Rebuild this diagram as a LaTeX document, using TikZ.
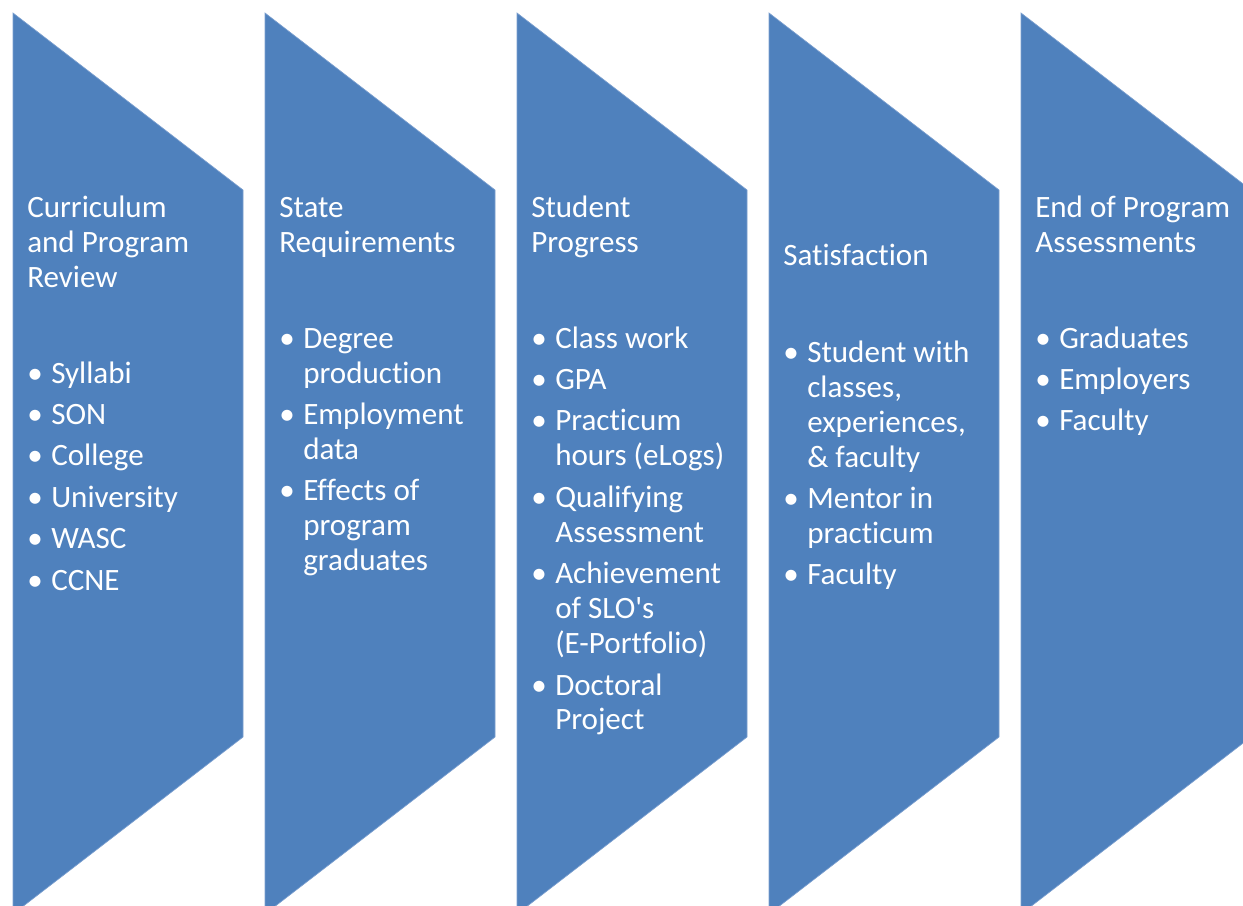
\documentclass[tikz,border=0pt]{standalone}
\usepackage{fontspec}
\setmainfont{Carlito}[Ligatures={NoCommon}]
\usepackage{tikz}
\usetikzlibrary{positioning}
\definecolor{ChevronBlue}{HTML}{4F81BD}
\definecolor{ChevronEdge}{HTML}{7B9FCF}

\tikzset{
    chevron/.style={fill=ChevronBlue, draw=ChevronEdge, line width=0.5pt},
    heading/.style={anchor=base west, inner sep=0pt, text=white,
        font=\fontsize{23.3pt}{26.25pt}\selectfont},
    itemlist/.style={heading}
}
\newcommand{\lines}[1]{\begin{tabular}[t]{@{}l@{}}#1\end{tabular}}
\newcommand{\bul}[1]{\makebox[18pt][l]{\textbullet}#1}
\newcommand{\cont}[1]{\hspace*{18pt}#1}
\newcommand{\gap}{\\[4.8pt]}

\begin{document}
\begin{tikzpicture}[x=0.75pt, y=-0.75pt]
    \useasboundingbox (0,0) rectangle (1243,906);
    \clip (0,0) rectangle (1243,906);
    \foreach \x/\name in {13/A,265/B,517/C,769/D,1021/E} {
     \draw[chevron] (\x,13) -- ++(230,177) -- ++(0,547) -- ++(-230,177) -- cycle;
    }
    \node[heading] (titleA) at (27,217) {\lines{Curriculum\\and Program\\Review}};
    \node[heading] (titleB) at (279,217) {\lines{State\\Requirements}};
    \node[heading] (titleC) at (531,217) {\lines{Student\\Progress}};
    \node[heading] (titleD) at (783,265) {\lines{Satisfaction}};
    \node[heading] (titleE) at (1035,217) {\lines{End of Program\\Assessments}};
    \node[itemlist] (listA) at (27,383) {\lines{\bul{Syllabi}\gap\bul{SON}\gap\bul{College}\gap
        \bul{University}\gap\bul{WASC}\gap\bul{CCNE}}};
    \node[itemlist] (listB) at (279,348) {\lines{\bul{Degree}\\\cont{production}\gap
        \bul{Employment}\\\cont{data}\gap\bul{Effects of}\\\cont{program}\\\cont{graduates}}};
    \node[itemlist] (listC) at (531,348) {\lines{\bul{Class work}\gap\bul{GPA}\gap
        \bul{Practicum}\\\cont{hours (eLogs)}\gap\bul{Qualifying}\\\cont{Assessment}\gap
        \bul{Achievement}\\\cont{of SLO\textquotesingle s}\\\cont{(E-Portfolio)}\gap
        \bul{Doctoral}\\\cont{Project}}};
    \node[itemlist] (listD) at (783,362) {\lines{\bul{Student with}\\\cont{classes,}\\
        \cont{experiences,}\\\cont{\& faculty}\gap\bul{Mentor in}\\\cont{practicum}\gap
        \bul{Faculty}}};
    \node[itemlist] (listE) at (1035,348) {\lines{\bul{Graduates}\gap\bul{Employers}\gap\bul{Faculty}}};
\end{tikzpicture}
\end{document}
